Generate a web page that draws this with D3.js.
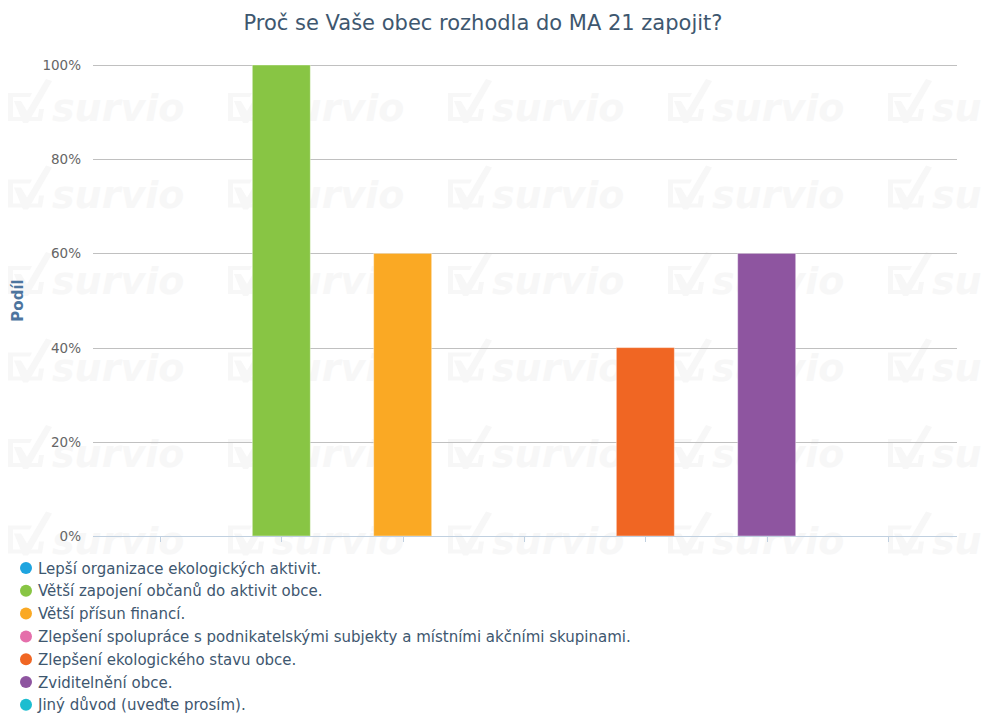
<!DOCTYPE html>
<html>
<head>
<meta charset="utf-8">
<script src="https://cdn.jsdelivr.net/npm/d3@7"></script>
<style>
body{margin:0;background:#fff;}
svg{display:block;}
</style>
</head>
<body>
<svg id="chart" width="981" height="715"></svg>
<script>
var categories = ["Lepší organizace ekologických aktivit.",
    "Větší zapojení občanů do aktivit obce.",
    "Větší přísun financí.",
    "Zlepšení spolupráce s podnikatelskými subjekty a místními akčními skupinami.",
    "Zlepšení ekologického stavu obce.",
    "Zviditelnění obce.",
    "Jiný důvod (uveďte prosím)."];
var values = [0, 100, 60, 0, 40, 60, 0];
var colors = ["#1ea4df", "#88c544", "#faa924", "#e56fab", "#f06623", "#8e55a0", "#1cbdd0"];
var yTicks = [0, 20, 40, 60, 80, 100];

var svg = d3.select("#chart");
var plotLeft = 93, plotRight = 957, plotTop = 65, plotBottom = 536;

var x = d3.scaleBand().domain(d3.range(categories.length)).range([99.3, 948.7]);
var y = d3.scaleLinear().domain([0, 100]).range([plotBottom, plotTop]);

// vodoznak survio
var wm = svg.append("g").attr("fill", "#f7f7f7");
for(var r=0;r<6;r++){
    for(var c=0;c<5;c++){
        var wx = 8 + c*220, wy = 121 + r*86.5;
        var g = wm.append("g").attr("transform","translate("+wx+","+wy+")");
        g.append("path").attr("d","M0,-28 L24,-28 L22,-24 L5,-24 L5,-4 L30,-4 L31,-12 L36,-12 L34,0 L0,0 Z");
        g.append("path").attr("d","M6,-20 L13,-20 L19,-10 L38,-42 L44,-40 L20,2 L15,2 Z");
        g.append("text").attr("x",44).attr("y",0)
            .style("font-family","DejaVu Sans, sans-serif").style("font-weight","bold").style("font-style","italic")
            .style("font-size","38px").text("survio");
    }
}

// mřížka
svg.append("g").selectAll("line").data(yTicks.slice(1)).enter().append("line")
    .attr("x1",plotLeft).attr("x2",plotRight).attr("y1",d=>Math.round(y(d))+0.5).attr("y2",d=>Math.round(y(d))+0.5)
    .style("stroke","#c0c0c0").style("stroke-width",1);

svg.append("g").selectAll("text").data(yTicks).enter().append("text")
    .attr("x",81).attr("y",d=>y(d)+5).attr("text-anchor","end")
    .style("font-family","DejaVu Sans, sans-serif").style("font-size","13.5px").style("fill","#666")
    .text(d=>d+"%");

svg.append("text").attr("transform","translate(23,"+((plotTop+plotBottom)/2)+") rotate(-90)")
    .attr("text-anchor","middle")
    .style("font-family","DejaVu Sans, sans-serif").style("font-size","15px").style("font-weight","bold").style("fill","#4d759e")
    .text("Podíl");

// sloupce
var barW = 58;
svg.append("g").selectAll("rect").data(values).enter().append("rect")
    .attr("x",(d,i)=>x(i)+x.bandwidth()/2-barW/2).attr("width",barW)
    .attr("y",d=>y(d)).attr("height",d=>plotBottom-y(d))
    .style("fill",(d,i)=>colors[i]).style("stroke","#fff").style("stroke-opacity",0.4).style("stroke-width",1);

// osa x
svg.append("line").attr("x1",plotLeft).attr("x2",plotRight).attr("y1",plotBottom+0.5).attr("y2",plotBottom+0.5)
    .style("stroke","#c0d0e0").style("stroke-width",1);
svg.append("g").selectAll("line").data(d3.range(categories.length)).enter().append("line")
    .attr("x1",d=>Math.round(x(d)+x.bandwidth()/2)+0.5).attr("x2",d=>Math.round(x(d)+x.bandwidth()/2)+0.5)
    .attr("y1",plotBottom).attr("y2",plotBottom+6)
    .style("stroke","#c0d0e0").style("stroke-width",1);

// titulek
svg.append("text").attr("x",483).attr("y",30).attr("text-anchor","middle")
    .style("font-family","DejaVu Sans, sans-serif").style("font-size","21px").style("fill","#3e576f")
    .text("Proč se Vaše obec rozhodla do MA 21 zapojit?");

// legenda
var leg = svg.append("g").selectAll("g").data(categories).enter().append("g")
    .attr("transform",(d,i)=>"translate(0,"+(568+i*22.8)+")");
leg.append("circle").attr("cx",26).attr("cy",0).attr("r",6).style("fill",(d,i)=>colors[i]);
leg.append("text").attr("x",38).attr("y",5.5)
    .style("font-family","DejaVu Sans, sans-serif")
    .style("font-size","15px").style("fill","#3e576f")
    .text(d=>d);
</script>
</body>
</html>
